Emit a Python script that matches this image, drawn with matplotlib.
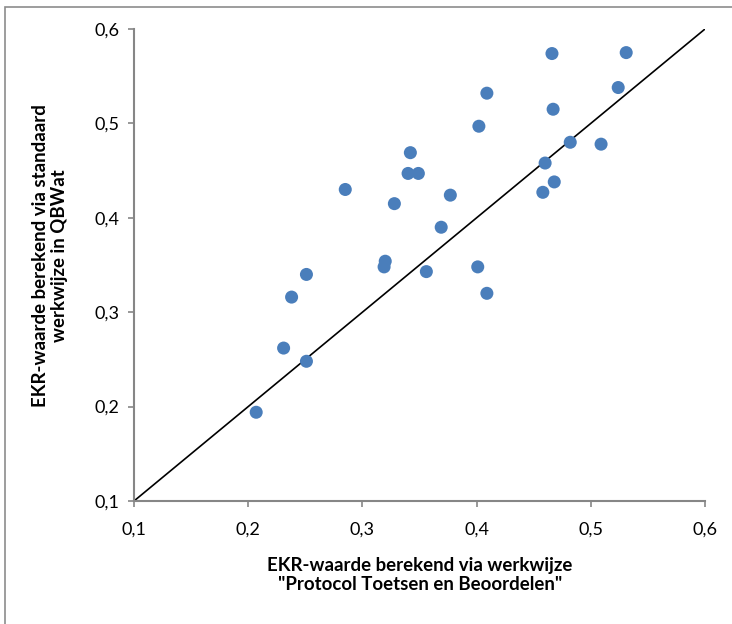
import matplotlib
matplotlib.use("Agg")
import matplotlib.pyplot as plt
from matplotlib.patches import Rectangle

plt.rcParams['font.family'] = ['Lato', 'DejaVu Sans']

# EKR-waarden: protocol (x) tegen standaard QBWat (y)
ekr_protocol = [0.466, 0.531, 0.524, 0.409, 0.467, 0.402, 0.482, 0.509,
                0.342, 0.340, 0.349, 0.460, 0.468, 0.458, 0.377, 0.328,
                0.369, 0.320, 0.319, 0.356, 0.401, 0.409, 0.285, 0.251,
                0.238, 0.231, 0.251, 0.207]
ekr_qbwat = [0.574, 0.575, 0.538, 0.532, 0.515, 0.497, 0.480, 0.478,
             0.469, 0.447, 0.447, 0.458, 0.438, 0.427, 0.424, 0.415,
             0.390, 0.354, 0.348, 0.343, 0.348, 0.320, 0.430, 0.340,
             0.316, 0.262, 0.248, 0.194]
lijn = [0.1, 0.6]
ticks = [0.1, 0.2, 0.3, 0.4, 0.5, 0.6]
tick_labels = ["0,1", "0,2", "0,3", "0,4", "0,5", "0,6"]

W, H = 732, 624
fig = plt.figure(figsize=(W / 100, H / 100), dpi=100)

# kader rond de grafiek (rechts en onder valt buiten beeld)
fig.patches.append(Rectangle((5 / W, -0.05), 1.2, 1 - 7 / H + 0.05,
                             transform=fig.transFigure, fill=False,
                             edgecolor='#8c8c8c', linewidth=1.2))

ax = fig.add_axes([134 / W, 1 - 501 / H, (705 - 134) / W, (501 - 29) / H])

ax.plot(lijn, lijn, color='black', linewidth=1.2, zorder=2)
ax.scatter(ekr_protocol, ekr_qbwat, s=88, color='#4a7ebb', edgecolors='none',
           zorder=3, clip_on=False)

ax.set_xlim(0.1, 0.6)
ax.set_ylim(0.1, 0.6)
ax.set_xticks(ticks)
ax.set_xticklabels(tick_labels)
ax.set_yticks(ticks)
ax.set_yticklabels(tick_labels)

for side in ['top', 'right']:
    ax.spines[side].set_visible(False)
for side in ['left', 'bottom']:
    ax.spines[side].set_color('#868686')
    ax.spines[side].set_linewidth(1.5)

ax.tick_params(axis='both', direction='out', length=4.5, width=1.2,
               color='#868686', labelsize=13, labelcolor='black')
ax.tick_params(axis='x', pad=10)
ax.tick_params(axis='y', pad=6)

fig.text(420 / W, 1 - 575 / H,
         'EKR-waarde berekend via werkwijze\n"Protocol Toetsen en Beoordelen"',
         ha='center', va='center', fontsize=13.4, fontweight='bold',
         linespacing=1.15)
fig.text(50 / W, 1 - 256 / H,
         'EKR-waarde berekend via standaard\nwerkwijze in QBWat',
         ha='center', va='center', rotation=90, fontsize=13.4,
         fontweight='bold', linespacing=1.2)

fig.savefig("out.png", dpi=100)
